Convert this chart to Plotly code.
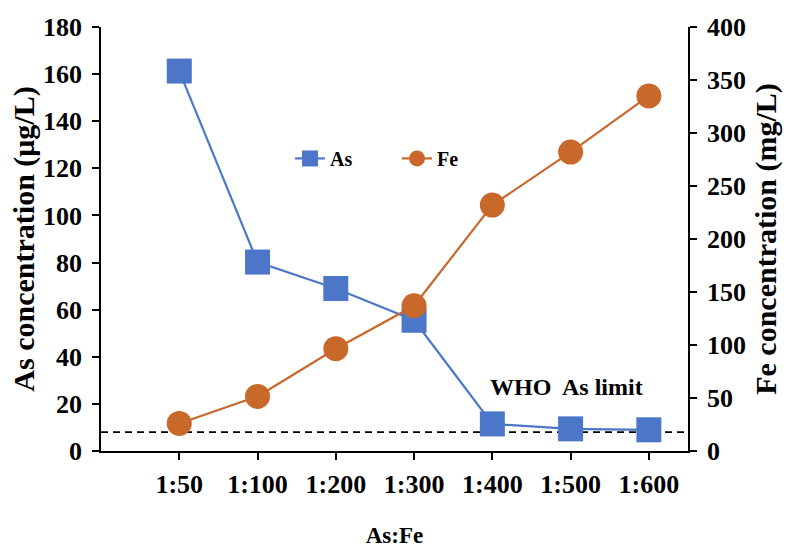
import plotly.graph_objects as go

categories = ["1:50", "1:100", "1:200", "1:300", "1:400", "1:500", "1:600"]
as_values = [161.3, 80.2, 69.0, 55.5, 11.5, 9.4, 9.0]
fe_values = [26.0, 51.5, 96.5, 137.0, 232.0, 282.0, 335.0]
who_limit = 8
who_label = "WHO  As limit"

AS_COLOR = "#4C77C8"
FE_COLOR = "#C8682A"
FONT = "Liberation Serif"

fig = go.Figure()
fig.add_trace(go.Scatter(
    x=categories, y=as_values, name="As", mode="lines+markers",
    line=dict(color=AS_COLOR, width=2.2),
    marker=dict(symbol="square", size=25, color=AS_COLOR),
    yaxis="y",
))
fig.add_trace(go.Scatter(
    x=categories, y=fe_values, name="Fe", mode="lines+markers",
    line=dict(color=FE_COLOR, width=2.2),
    marker=dict(symbol="circle", size=25, color=FE_COLOR),
    yaxis="y2",
))

fig.add_shape(type="line", xref="paper", yref="y", x0=0, x1=1,
              y0=who_limit, y1=who_limit,
              line=dict(color="black", width=1.6, dash="7px,5px"), layer="below")
fig.add_annotation(x=4.95, y=27, xref="x", yref="y", text=who_label,
                   showarrow=False, font=dict(family=FONT, size=24, color="black", weight="bold"))

axis_common = dict(showline=True, linecolor="black", linewidth=1.6, ticks="outside",
                   tickcolor="black", tickwidth=1.5, showgrid=False, zeroline=False,
                   tickfont=dict(family=FONT, size=26, color="black", weight="bold"))

fig.update_layout(
    width=787, height=548,
    margin=dict(l=101, r=99, t=27, b=97, autoexpand=False),
    paper_bgcolor="white", plot_bgcolor="white",
    font=dict(family=FONT, size=22, color="black", weight="bold"),
    xaxis=dict(type="category", range=[-1.0, 6.5], ticklen=7, ticklabelstandoff=2,
               title=dict(text="As:Fe", font=dict(family=FONT, size=23, weight="bold"), standoff=50),
               automargin=False, **axis_common),
    yaxis=dict(range=[0, 180], dtick=20, ticklen=7, ticklabelstandoff=5,
               title=dict(text="As concentration (μg/L)", font=dict(family=FONT, size=30, weight="bold"), standoff=0),
               automargin=False, **axis_common),
    yaxis2=dict(range=[0, 400], dtick=50, overlaying="y", side="right", ticklen=7,
                ticklabelstandoff=5,
                title=dict(text="Fe concentration (mg/L)", font=dict(family=FONT, size=30, weight="bold"), standoff=10),
                automargin=False, **axis_common),
    legend=dict(orientation="h", x=0.322, y=0.69, xanchor="left", yanchor="middle",
                font=dict(family=FONT, size=20, color="black", weight="bold"),
                bgcolor="rgba(0,0,0,0)", entrywidth=62, itemsizing="trace"),
    showlegend=True,
)

fig.write_html("out.html")
